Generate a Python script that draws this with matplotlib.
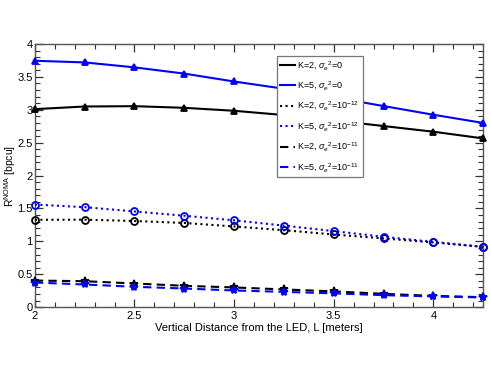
import numpy as np
import matplotlib
matplotlib.use("Agg")
import matplotlib.pyplot as plt
from matplotlib.lines import Line2D
from matplotlib.ticker import MultipleLocator, FormatStrFormatter

plt.rcParams['font.family'] = ['Liberation Sans', 'DejaVu Sans']
plt.rcParams['mathtext.fontset'] = 'custom'
plt.rcParams['mathtext.rm'] = 'Liberation Sans'
plt.rcParams['mathtext.it'] = 'Liberation Sans:italic'

# vertical distance L [m]
L = [2.0, 2.25, 2.5, 2.75, 3.0, 3.25, 3.5, 3.75, 4.0, 4.25]

# sum rate [bpcu]
k2_s0 = [3.01, 3.05, 3.055, 3.03, 2.985, 2.92, 2.84, 2.753, 2.667, 2.565]
k5_s0 = [3.745, 3.72, 3.645, 3.55, 3.43, 3.32, 3.19, 3.057, 2.925, 2.80]
k2_s12 = [1.328, 1.33, 1.31, 1.28, 1.227, 1.17, 1.105, 1.045, 0.984, 0.917]
k5_s12 = [1.56, 1.52, 1.455, 1.39, 1.32, 1.24, 1.156, 1.07, 0.993, 0.917]
k2_s11 = [0.405, 0.395, 0.36, 0.325, 0.30, 0.27, 0.24, 0.203, 0.172, 0.152]
k5_s11 = [0.375, 0.345, 0.31, 0.284, 0.254, 0.233, 0.21, 0.183, 0.163, 0.148]

labels = [r'K=2, $\sigma_e$$^2$=0',
          r'K=5, $\sigma_e$$^2$=0',
          r'K=2, $\sigma_e$$^2$=10$^{-12}$',
          r'K=5, $\sigma_e$$^2$=10$^{-12}$',
          r'K=2, $\sigma_e$$^2$=10$^{-11}$',
          r'K=5, $\sigma_e$$^2$=10$^{-11}$']

series = [k2_s0, k5_s0, k2_s12, k5_s12, k2_s11, k5_s11]
colors = ['black', '#0000ff'] * 3
styles = ['-', '-', ':', ':', (0, (4, 2.5)), (0, (4, 2.5))]
markers = ['^', '^', 'o', 'o', '*', '*']

fig = plt.figure(figsize=(4.91, 3.76), dpi=100)
ax = fig.add_axes([0.071, 0.183, 0.913, 0.700])

handles = []
for y, c, ls, m, lab in zip(series, colors, styles, markers, labels):
    mfc = 'none' if m == 'o' else c
    ax.plot(L, y, color=c, linestyle=ls, linewidth=1.5, marker=m,
            markersize=5 if m != '*' else 6, markerfacecolor=mfc,
            markeredgewidth=1.3, clip_on=False, zorder=3)
    handles.append(Line2D([], [], color=c, linestyle=ls, linewidth=1.5, label=lab))

ax.set_xlim(2, 4.25)
ax.set_ylim(0, 4)
ax.xaxis.set_major_locator(MultipleLocator(0.5))
ax.xaxis.set_minor_locator(MultipleLocator(0.1))
ax.yaxis.set_major_locator(MultipleLocator(0.5))
ax.yaxis.set_minor_locator(MultipleLocator(0.1))
ax.xaxis.set_major_formatter(FormatStrFormatter('%g'))
ax.yaxis.set_major_formatter(FormatStrFormatter('%g'))
ax.tick_params(which='both', direction='in', top=True, right=True,
               labelsize=8, colors='#333333', labelcolor='black', pad=3)
ax.tick_params(axis='y', pad=1.5)
ax.tick_params(which='major', length=6, width=0.9)
ax.tick_params(which='minor', length=3.5, width=0.8)
for sp in ax.spines.values():
    sp.set_color('#555555')
    sp.set_linewidth(1.0)

ax.set_xlabel('Vertical Distance from the LED, L [meters]', fontsize=8, labelpad=1)
ax.set_ylabel(r'R$^{\mathrm{NOMA}}$ [bpcu]', fontsize=7.5)
ax.yaxis.set_label_coords(-0.038, 0.5)

leg = ax.legend(handles=handles, loc='upper left', bbox_to_anchor=(0.54, 0.955),
                fontsize=6.5, handlelength=1.6, handletextpad=0.3,
                labelspacing=0.85, borderpad=0.35, borderaxespad=0,
                frameon=True, fancybox=False,
                framealpha=1, edgecolor='#777777')
leg.get_frame().set_linewidth(0.9)

fig.savefig('out.png', dpi=100)
